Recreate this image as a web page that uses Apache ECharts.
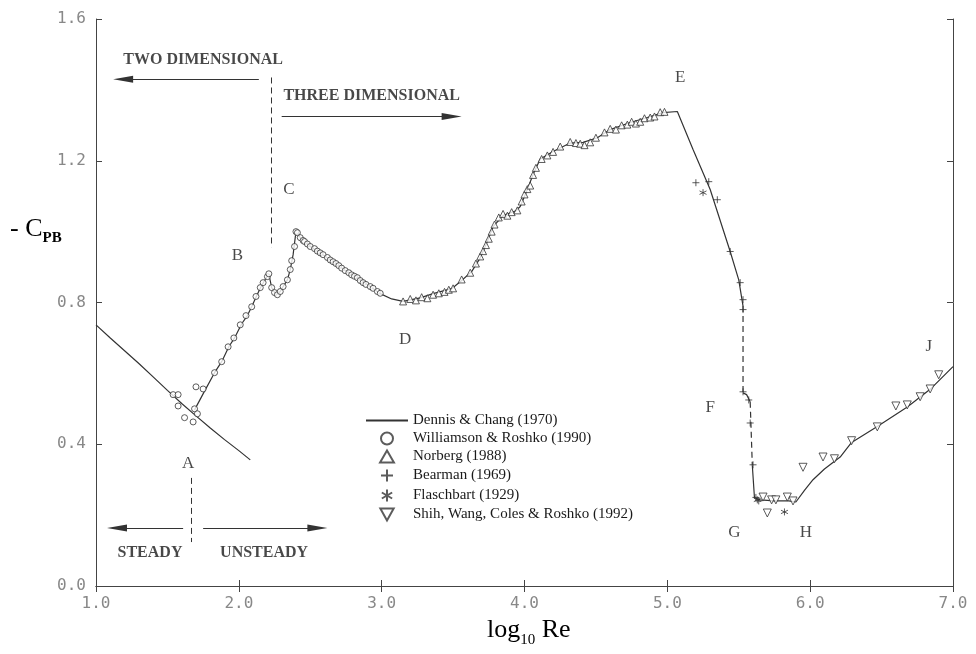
<!DOCTYPE html>
<html>
<head>
<meta charset="utf-8">
<script src="https://cdn.jsdelivr.net/npm/echarts@6/dist/echarts.min.js"></script>
<style>
  html, body { margin: 0; padding: 0; background: #fff; }
  #chart { width: 976px; height: 654px; }
</style>
</head>
<body>
<div id="chart"></div>
<script>
// log10 Re , -Cpb
const dennisChang = [[1.0,0.737],[1.1,0.70],[1.2,0.664],[1.3,0.628],[1.4,0.59],[1.5,0.552],[1.6,0.515],[1.7,0.48],[1.8,0.446],[1.9,0.413],[2.0,0.382],[2.08,0.356]];

// curve through the experiments, split where the original is dashed
const curveMain = [[1.69,0.497],[1.76,0.55],[1.83,0.602],[1.88,0.633],[1.93,0.675],[1.97,0.70],[2.02,0.74],[2.06,0.763],[2.09,0.788],[2.12,0.815],[2.15,0.84],[2.18,0.862],[2.21,0.88],[2.23,0.842],[2.26,0.822],[2.29,0.831],[2.31,0.845],[2.34,0.864],[2.36,0.893],[2.38,0.935],[2.40,1.0],[2.43,0.983],[2.50,0.958],[2.57,0.94],[2.66,0.915],[2.745,0.89],[2.83,0.87],[2.92,0.845],[2.99,0.825],[3.07,0.81],[3.15,0.803],[3.27,0.813],[3.36,0.825],[3.49,0.839],[3.56,0.862],[3.63,0.887],[3.69,0.926],[3.74,0.972],[3.78,1.014],[3.85,1.045],[3.94,1.059],[3.97,1.071],[4.02,1.119],[4.06,1.161],[4.11,1.205],[4.20,1.226],[4.32,1.25],[4.41,1.252],[4.51,1.265],[4.60,1.288],[4.74,1.308],[4.86,1.322],[4.97,1.336],[5.07,1.339],[5.18,1.232],[5.30,1.119],[5.44,0.944],[5.50,0.864],[5.53,0.79]];
const curveDashF = [[5.53,0.79],[5.53,0.545]];
const curveStepF = [[5.53,0.545],[5.555,0.54],[5.58,0.52]];
const curveDashG = [[5.58,0.52],[5.595,0.34]];
const curveTail = [[5.595,0.34],[5.61,0.249],[5.65,0.243],[5.75,0.24],[5.85,0.24],[5.90,0.237],[5.96,0.27],[6.02,0.30],[6.1,0.33],[6.21,0.364],[6.29,0.405],[6.47,0.45],[6.68,0.505],[6.84,0.555],[7.0,0.619]];

const williamsonRoshko = [[1.54,0.54],[1.575,0.54],[1.575,0.508],[1.62,0.475],[1.68,0.463],[1.69,0.50],[1.71,0.486],[1.70,0.562],[1.75,0.556],[1.83,0.602],[1.88,0.633],[1.925,0.675],[1.965,0.70],[2.01,0.737],[2.05,0.763],[2.09,0.788],[2.12,0.817],[2.15,0.842],[2.17,0.856],[2.20,0.873],[2.21,0.881],[2.23,0.842],[2.25,0.828],[2.27,0.822],[2.29,0.831],[2.31,0.845],[2.34,0.864],[2.36,0.893],[2.37,0.918],[2.39,0.958],[2.40,1.0],[2.41,0.997],[2.43,0.983],[2.45,0.975],[2.46,0.972],[2.48,0.965],[2.50,0.958],[2.53,0.952],[2.55,0.945],[2.57,0.94],[2.59,0.935],[2.62,0.927],[2.64,0.92],[2.66,0.915],[2.68,0.91],[2.70,0.904],[2.72,0.897],[2.745,0.89],[2.77,0.884],[2.79,0.878],[2.81,0.874],[2.83,0.87],[2.85,0.862],[2.87,0.856],[2.89,0.851],[2.92,0.845],[2.94,0.84],[2.97,0.831],[2.99,0.826]];

const norberg = [[3.15,0.803],[3.2,0.81],[3.24,0.806],[3.28,0.815],[3.32,0.812],[3.36,0.822],[3.40,0.826],[3.44,0.83],[3.47,0.836],[3.50,0.84],[3.56,0.865],[3.62,0.884],[3.66,0.91],[3.69,0.93],[3.71,0.945],[3.73,0.962],[3.75,0.98],[3.77,1.0],[3.79,1.02],[3.82,1.04],[3.85,1.05],[3.88,1.045],[3.91,1.055],[3.95,1.06],[3.98,1.085],[4.00,1.105],[4.02,1.12],[4.04,1.13],[4.06,1.16],[4.08,1.18],[4.12,1.205],[4.16,1.215],[4.20,1.225],[4.25,1.24],[4.32,1.253],[4.36,1.25],[4.39,1.248],[4.42,1.244],[4.46,1.252],[4.50,1.265],[4.56,1.28],[4.60,1.29],[4.64,1.288],[4.68,1.3],[4.72,1.302],[4.75,1.31],[4.78,1.305],[4.81,1.31],[4.84,1.32],[4.88,1.322],[4.91,1.325],[4.95,1.337],[4.98,1.338]];

const bearman = [[5.20,1.138],[5.29,1.141],[5.35,1.09],[5.44,0.944],[5.51,0.856],[5.53,0.808],[5.53,0.78],[5.53,0.548],[5.57,0.525],[5.58,0.46],[5.60,0.342],[5.62,0.25],[5.64,0.24]];
const flaschbart = [[5.25,1.11],[5.63,0.243],[5.82,0.209]];
const shihEtAl = [[5.67,0.251],[5.70,0.206],[5.73,0.243],[5.76,0.243],[5.84,0.251],[5.88,0.240],[5.95,0.335],[6.09,0.364],[6.17,0.359],[6.29,0.41],[6.47,0.449],[6.60,0.508],[6.68,0.511],[6.77,0.534],[6.84,0.556],[6.90,0.596]];

const pointLetters = ['A','B','C','D','E','F','G','H','J'];
const letterPos = [[1.645,0.345],[1.99,0.932],[2.35,1.119],[3.165,0.695],[5.09,1.435],[5.30,0.503],[5.47,0.15],[5.97,0.15],[6.83,0.675]];
const regionText = ['TWO DIMENSIONAL','THREE DIMENSIONAL','STEADY','UNSTEADY'];
const regionPos = [[1.75,1.486],[2.93,1.384],[1.378,0.093],[2.177,0.093]];

// [from, to] arrows and dashed boundaries
const arrows = [[[2.14,1.43],[1.19,1.43]],[[2.30,1.325],[3.49,1.325]],[[1.61,0.164],[1.147,0.164]],[[1.75,0.164],[2.55,0.164]]];
const boundaries = [[[2.23,1.435],[2.23,0.955]],[[1.67,0.305],[1.67,0.124]]];

const yTicks = [0, 0.4, 0.8, 1.2, 1.6];

const ink = '#333';
const serif = '"Liberation Serif", "DejaVu Serif", serif';
const mono = '"DejaVu Sans Mono", monospace';

const chart = echarts.init(document.getElementById('chart'), null, { renderer: 'canvas' });

function curve(data, dashed) {
  return {
    type: 'line', data: data, symbol: 'none', z: 2,
    itemStyle: { color: 'transparent' },
    lineStyle: { color: ink, width: 1.2, type: dashed ? [6, 4] : 'solid' },
    silent: true
  };
}
function markers(name, data, symbol, size, fill) {
  return {
    name: name, type: 'scatter', data: data, symbol: symbol, symbolSize: size, z: 3,
    itemStyle: { color: fill, borderColor: ink, borderWidth: 1 }
  };
}

const markData = [];
arrows.forEach(a => {
  markData.push([{ coord: a[0] }, { coord: a[1], symbol: 'triangle', symbolSize: [7, 20] }]);
});
boundaries.forEach(b => {
  markData.push([{ coord: b[0], lineStyle: { type: [6, 4] } }, { coord: b[1] }]);
});

const axisCommon = {
  type: 'value',
  axisLine: { show: true, lineStyle: { color: '#444', width: 1 } },
  axisTick: { show: true, inside: true, length: 6, lineStyle: { color: '#444' } },
  splitLine: { show: false }
};

const option = {
  animation: false,
  backgroundColor: '#fff',
  grid: { left: 96, right: 23, top: 19, bottom: 68 },
  xAxis: [
    Object.assign({}, axisCommon, {
      min: 1, max: 7, interval: 1, position: 'bottom',
      axisLabel: { margin: 10, fontFamily: mono, fontSize: 16, color: '#888', formatter: v => v.toFixed(1) }
    }),
    Object.assign({}, axisCommon, {
      min: 1, max: 7, interval: 1, position: 'top', axisLabel: { show: false }
    })
  ],
  yAxis: [
    Object.assign({}, axisCommon, {
      min: yTicks[0], max: yTicks[yTicks.length - 1], interval: 0.4, position: 'left',
      axisLabel: { margin: 10, fontFamily: mono, fontSize: 16, color: '#888', formatter: v => v.toFixed(1) }
    }),
    Object.assign({}, axisCommon, {
      min: yTicks[0], max: yTicks[yTicks.length - 1], interval: 0.4, position: 'right', axisLabel: { show: false }
    })
  ],
  legend: {
    orient: 'vertical', left: 360, top: 408, itemWidth: 42, itemHeight: 12, itemGap: 3,
    textStyle: { fontFamily: serif, fontSize: 15, color: '#1a1a1a' },
    data: ['Dennis & Chang (1970)','Williamson & Roshko (1990)','Norberg (1988)','Bearman (1969)','Flaschbart (1929)','Shih, Wang, Coles & Roshko (1992)']
  },
  graphic: [
    {
      type: 'text', left: 10, top: 212,
      style: {
        text: '{m|- C}{s|PB}',
        rich: {
          m: { fontFamily: serif, fontSize: 26, color: '#1a1a1a', lineHeight: 34 },
          s: { fontFamily: serif, fontSize: 15, fontWeight: 'bold', color: '#1a1a1a', lineHeight: 15, padding: [19, 0, 0, 0] }
        }
      }
    },
    {
      type: 'text', left: 487, top: 612,
      style: {
        text: '{m|log}{s|10}{m| Re}',
        rich: {
          m: { fontFamily: serif, fontSize: 26, color: '#1a1a1a', lineHeight: 34 },
          s: { fontFamily: serif, fontSize: 15, color: '#1a1a1a', lineHeight: 15, padding: [21, 0, 0, 0] }
        }
      }
    }
  ],
  series: [
    Object.assign(curve(dennisChang, false), { name: 'Dennis & Chang (1970)', silent: false }),
    curve(curveMain, false),
    curve(curveDashF, true),
    curve(curveStepF, false),
    curve(curveDashG, true),
    curve(curveTail, false),
    markers('Williamson & Roshko (1990)', williamsonRoshko, 'circle', 6, '#fff'),
    markers('Norberg (1988)', norberg, 'path://M5,0L10,8.66L0,8.66Z', 7, '#fff'),
    markers('Bearman (1969)', bearman, 'path://M5,0L5,10M0,5L10,5', 7, 'none'),
    markers('Flaschbart (1929)', flaschbart, 'path://M5,0L5,10M0.7,2.5L9.3,7.5M0.7,7.5L9.3,2.5', 7, 'none'),
    markers('Shih, Wang, Coles & Roshko (1992)', shihEtAl, 'path://M0,0L10,0L5,9Z', 8, '#fff'),
    {
      type: 'scatter', silent: true, z: 4, symbolSize: 1, itemStyle: { color: 'transparent' },
      data: pointLetters.map((t, i) => ({ name: t, value: letterPos[i] })),
      label: { show: true, position: 'inside', formatter: '{b}', fontFamily: serif, fontSize: 17, color: '#1a1a1a', textBorderWidth: 0 },
      markLine: {
        silent: true, symbol: ['none', 'none'], label: { show: false },
        lineStyle: { color: ink, width: 1, type: 'solid' },
        itemStyle: { color: ink },
        emphasis: { disabled: true },
        data: markData
      }
    },
    {
      type: 'scatter', silent: true, z: 4, symbolSize: 1, itemStyle: { color: 'transparent' },
      data: regionText.map((t, i) => ({ name: t, value: regionPos[i] })),
      label: { show: true, position: 'inside', formatter: '{b}', fontFamily: serif, fontSize: 16, fontWeight: 'bold', color: '#1a1a1a', textBorderWidth: 0 }
    }
  ]
};

chart.setOption(option);
</script>
</body>
</html>
